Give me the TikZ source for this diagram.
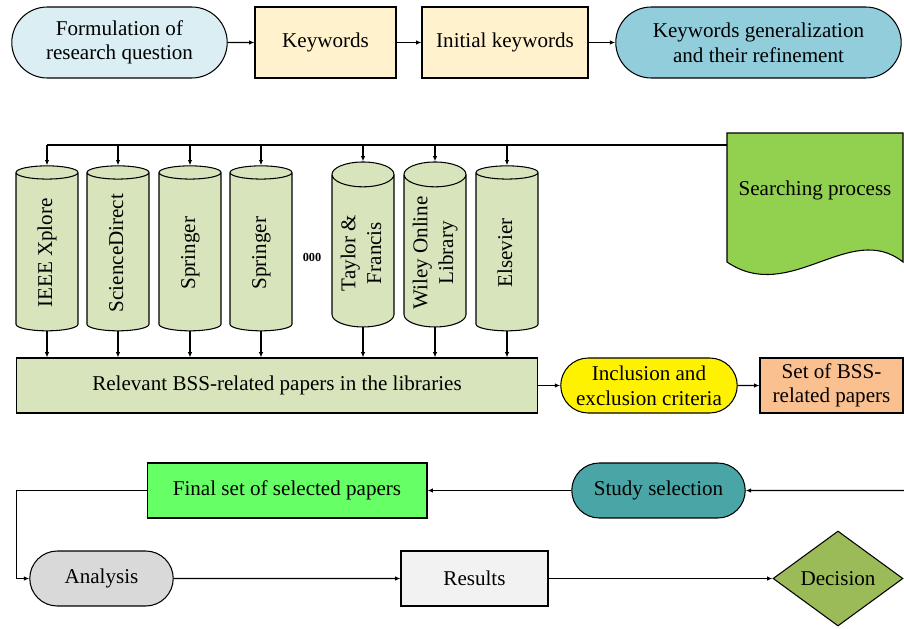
\documentclass[tikz,border=0pt]{standalone}
\usepackage{fontspec}
\setmainfont{Liberation Serif}
\usetikzlibrary{arrows.meta,shapes.geometric,shapes.misc,positioning}

\definecolor{qblue}{HTML}{DAEEF3}
\definecolor{kwyellow}{HTML}{FFF2CC}
\definecolor{genblue}{HTML}{92CDDC}
\definecolor{searchgreen}{HTML}{92D050}
\definecolor{libgreen}{HTML}{D7E4BC}
\definecolor{setorange}{HTML}{FAC090}
\definecolor{studyteal}{HTML}{4AA6A6}
\definecolor{finalgreen}{HTML}{66FF66}
\definecolor{analgray}{HTML}{D9D9D9}
\definecolor{resgray}{HTML}{F2F2F2}
\definecolor{decgreen}{HTML}{9BBB59}

\newcommand{\libtext}[1]{\rotatebox{90}{\renewcommand{\arraystretch}{1.05}\begin{tabular}{@{}c@{}}#1\end{tabular}}}

\begin{document}
\begin{tikzpicture}[x=0.02cm, y=0.02cm, line width=0.6pt, -{Latex[length=3pt, width=2.5pt]},
        every node/.append style={font=\fontsize{12}{14}\selectfont, line width=0.6pt}]
      \tikzstyle{pill} = [rounded rectangle, draw, align=center, inner sep=1pt, minimum height=1.1cm]
      \tikzstyle{box} = [rectangle, draw, align=center, inner sep=1pt, minimum height=1.1cm]
      \tikzstyle{library} = [cylinder, draw, fill=libgreen, shape border rotate=90, aspect=0.45,
        inner sep=1pt, minimum height=3.3cm, minimum width=1.24cm]
      \useasboundingbox (0,0) rectangle (904,-629);
      % top row
      \node (formulation) [pill, fill=qblue, minimum width=4.38cm, minimum height=1.42cm] at (119.5,-42.5) {Formulation of\\research question};
      \node (keywords) [box, fill=kwyellow, minimum width=2.82cm, minimum height=1.42cm] at (325.5,-42.5) {Keywords};
      \node (initial) [box, fill=kwyellow, minimum width=3.32cm, minimum height=1.42cm] at (505,-42.5) {Initial keywords};
      \node (general) [pill, fill=genblue, minimum width=5.78cm, minimum height=1.42cm] at (758.5,-42.5) {Keywords generalization\\and their refinement};
      \draw (formulation) -- (keywords);
      \draw (keywords) -- (initial);
      \draw (initial) -- (general);
      % searching process (document shape)
      \draw[-, fill=searchgreen] (727,-133) -- (903,-133) -- (903,-262)
        .. controls (850,-220) and (790,-305) .. (727,-262) -- cycle;
      \node (search) at (815,-190) {Searching process};
      \coordinate (bus) at (727,-145);
      % libraries
      \foreach \x/\name/\txt in {47/ieee/IEEE Xplore, 118/sd/ScienceDirect, 190/spra/Springer,
          261/sprb/Springer, 363/tf/{Taylor \&\\Francis}, 435/wiley/{Wiley Online\\Library}, 507/els/Elsevier}
        \node (\name) [library] at (\x,-253) {\libtext{\txt}};
      \node (dots) at (312,-257) {\fontsize{7}{7}\selectfont\bfseries 000};
      \node (relevant) [box, fill=libgreen, minimum width=10.44cm] at (277,-385.5) {Relevant BSS-related papers in the libraries};
      \draw[-] (bus) -- (ieee.top |- bus);
      \foreach \name in {ieee, sd, spra, sprb, tf, wiley, els} {
        \draw (\name.top |- bus) -- (\name.top);
        \draw (\name.bottom) -- (\name.bottom |- relevant.north);
      }
      % screening
      \node (inclusion) [pill, fill=yellow, minimum width=3.6cm] at (649,-385.5) {Inclusion and\\exclusion criteria};
      \node (bssset) [box, fill=setorange, minimum width=2.86cm] at (831.5,-385.5) {Set of BSS-\\related papers};
      \draw (relevant) -- (inclusion);
      \draw (inclusion) -- (bssset);
      % selection
      \coordinate (ret) at (904,-490.5);
      \node (study) [pill, fill=studyteal, minimum width=3.54cm] at (658.5,-490.5) {Study selection};
      \node (final) [box, fill=finalgreen, minimum width=5.6cm] at (287,-490.5) {Final set of selected papers};
      \draw (ret) -- (study);
      \draw (study) -- (final);
      % analysis
      \node (analysis) [pill, fill=analgray, minimum width=2.94cm] at (101.5,-578.5) {Analysis};
      \node (results) [box, fill=resgray, minimum width=2.94cm] at (474.5,-578.5) {Results};
      \node (decision) [diamond, draw, fill=decgreen, inner sep=0pt, aspect=1.37, minimum width=2.6cm, minimum height=1.9cm] at (838,-578.5) {Decision};
      \draw (final.west) -- ++(-130,0) |- (analysis.west);
      \draw (analysis) -- (results);
      \draw (results) -- (decision);
    \end{tikzpicture}
\end{document}
